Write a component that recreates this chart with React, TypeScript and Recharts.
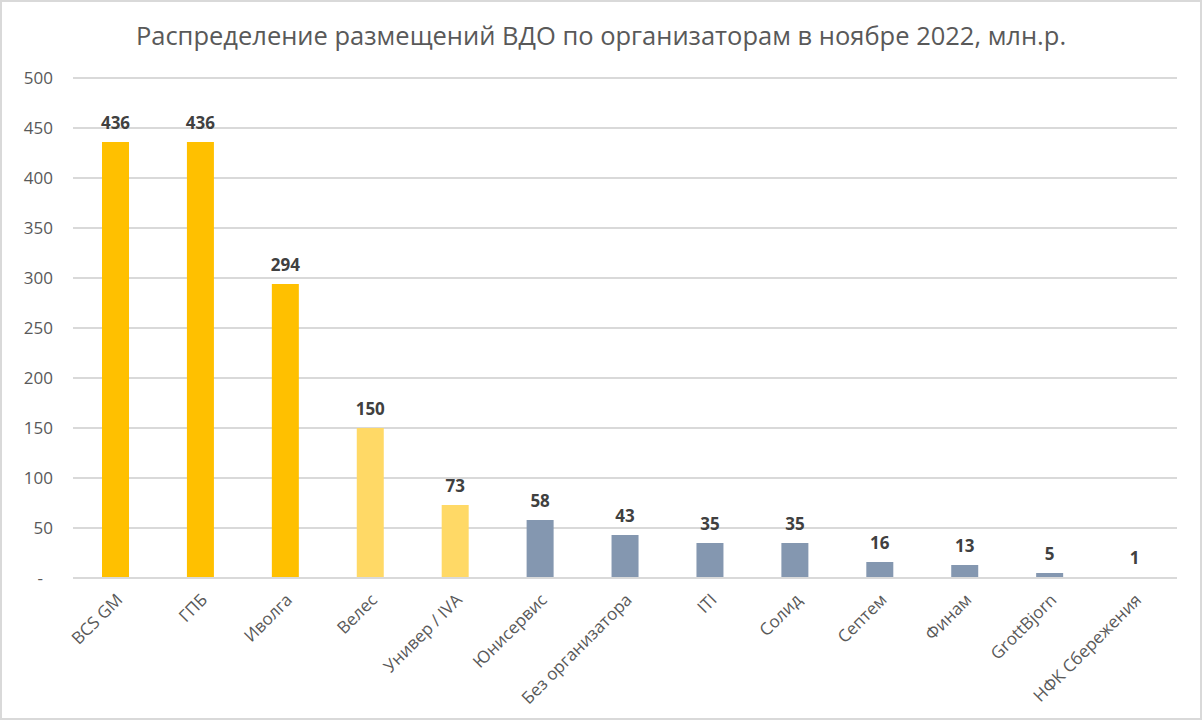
import { BarChart, Bar, XAxis, YAxis, CartesianGrid, Cell, LabelList } from 'recharts';

const organizers = [
  'BCS GM',
  'ГПБ',
  'Иволга',
  'Велес',
  'Универ / IVA',
  'Юнисервис',
  'Без организатора',
  'ITI',
  'Солид',
  'Септем',
  'Финам',
  'GrottBjorn',
  'НФК Сбережения',
];
const volumes = [436, 436, 294, 150, 73, 58, 43, 35, 35, 16, 13, 5, 1];
const barColors = [
  '#FFC000', '#FFC000', '#FFC000',
  '#FFD966', '#FFD966',
  '#8497B0', '#8497B0', '#8497B0', '#8497B0', '#8497B0', '#8497B0', '#8497B0', '#8497B0',
];
const yTicks = [0, 50, 100, 150, 200, 250, 300, 350, 400, 450, 500];

const data = organizers.map((name, i) => ({ name, value: volumes[i] }));

const FONT = '"Open Sans", "Liberation Sans", sans-serif';

const YTick = ({ x, y, payload }: any) => (
  <text
    x={payload.value === 0 ? x - 22 : x - 12}
    y={y}
    dy={6}
    textAnchor="end"
    fontSize={17}
    fill="#595959"
    fontFamily={FONT}
  >
    {payload.value === 0 ? '-' : payload.value}
  </text>
);

const XTick = ({ x, y, payload }: any) => (
  <text
    x={x + 8}
    y={y + 15}
    textAnchor="end"
    fontSize={17}
    fill="#595959"
    fontFamily={FONT}
    transform={`rotate(-45, ${x + 8}, ${y + 15})`}
  >
    {payload.value}
  </text>
);

export default function App() {
  return (
    <div style={{ position: 'absolute', left: 0, top: 0, width: 1202, height: 720, background: '#fff' }}>
      <div
        style={{
          position: 'absolute',
          left: 0,
          top: 18,
          width: 1202,
          textAlign: 'center',
          fontFamily: FONT,
          fontSize: 25.5,
          color: '#595959',
        }}
      >
        Распределение размещений ВДО по организаторам в ноябре 2022, млн.р.
      </div>
      <BarChart
        width={1202}
        height={720}
        data={data}
        margin={{ top: 78, right: 25, left: 0, bottom: 0 }}
        style={{ position: 'absolute', left: 0, top: 0 }}
      >
        <CartesianGrid vertical={false} stroke="#d9d9d9" strokeWidth={2} />
        <XAxis
          dataKey="name"
          height={142}
          interval={0}
          tick={<XTick />}
          tickLine={false}
          axisLine={{ stroke: '#d9d9d9', strokeWidth: 2 }}
        />
        <YAxis
          width={73}
          domain={[0, 500]}
          ticks={yTicks}
          tick={<YTick />}
          tickLine={false}
          axisLine={false}
        />
        <Bar dataKey="value" barSize={27} isAnimationActive={false}>
          {data.map((d, i) => (
            <Cell key={d.name} fill={barColors[i]} />
          ))}
          <LabelList
            dataKey="value"
            position="top"
            offset={13}
            fontSize={17}
            fontWeight="bold"
            fill="#404040"
            fontFamily={FONT}
          />
        </Bar>
      </BarChart>
      <div
        style={{
          position: 'absolute',
          left: 0,
          top: 0,
          width: 1202,
          height: 720,
          boxSizing: 'border-box',
          border: '2px solid #d9d9d9',
          pointerEvents: 'none',
        }}
      />
    </div>
  );
}
